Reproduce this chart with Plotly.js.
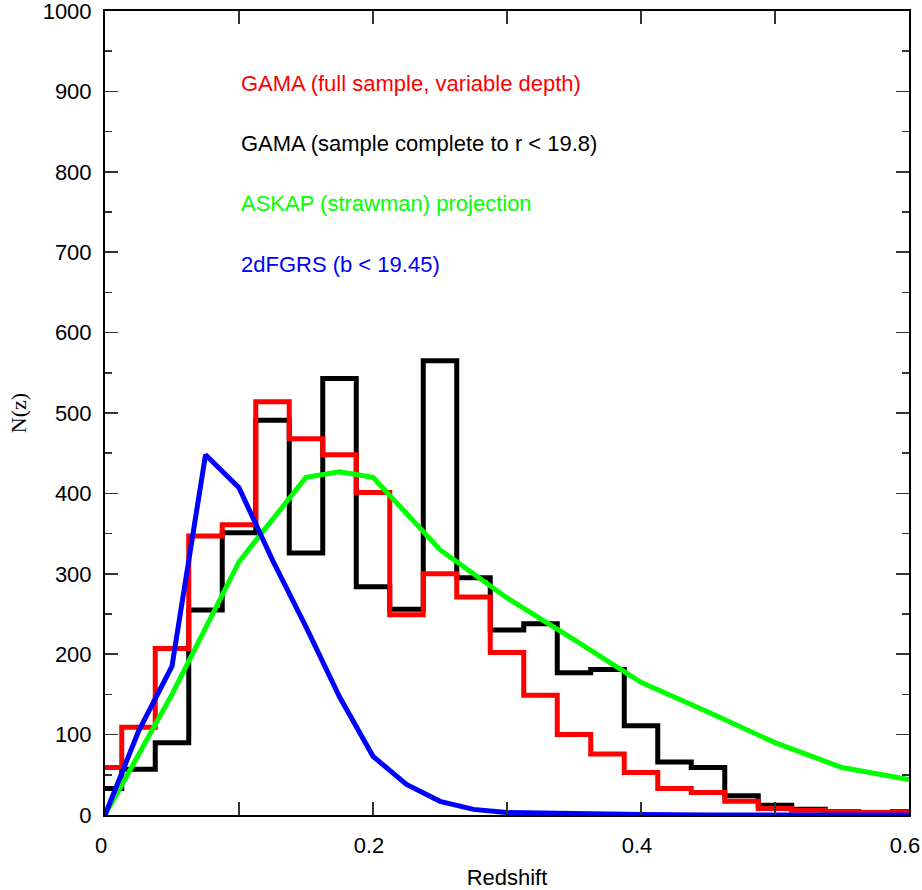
<!DOCTYPE html>
<html>
<head>
<meta charset="utf-8">
<script src="https://cdn.plot.ly/plotly-3.0.1.min.js"></script>
<style>html,body{margin:0;padding:0;background:#fff;}#chart{width:922px;height:890px;}</style>
</head>
<body>
<div id="chart"></div>
<script>
// Histogram bin centres (bin width 0.025)
const binCentres = [0,0.025,0.05,0.075,0.1,0.125,0.15,0.175,0.2,0.225,0.25,0.275,0.3,0.325,0.35,0.375,0.4,0.425,0.45,0.475,0.5,0.525,0.55,0.575,0.6];
// GAMA (sample complete to r < 19.8)
const gamaComplete = [33,57,90,255,351,491,326,543,284,256,565,295,230,238,177,181,111,66,59,24,12,7,4,3,4];
// GAMA (full sample, variable depth)
const gamaFull = [59,109,207,347,361,514,468,448,401,249,300,271,202,149,100,76,53,33,28,17,8,6,4,3,3];
// ASKAP (strawman) projection
const askapZ = [0,0.05,0.1,0.15,0.175,0.2,0.25,0.3,0.35,0.4,0.45,0.5,0.55,0.6];
const askapN = [0,150,315,420,427,420,330,270,218,165,128,90,59,44];
// 2dFGRS (b < 19.45)
const dfZ = [0,0.025,0.05,0.075,0.1,0.125,0.15,0.175,0.2,0.225,0.25,0.275,0.3,0.325,0.35,0.4,0.45,0.5,0.6];
const dfN = [0,104,185,448,407,317,234,147,73,38,17,7,3,2,1,0.5,0,0,0];

const labels = [
  {text:'GAMA (full sample, variable depth)', y:910, color:'#ff0000'},
  {text:'GAMA (sample complete to r < 19.8)', y:835, color:'#000000'},
  {text:'ASKAP (strawman) projection', y:760, color:'#00ff00'},
  {text:'2dFGRS (b < 19.45)', y:685, color:'#0000ff'}
];

const traces = [
  {x:binCentres, y:gamaComplete, type:'scatter', mode:'lines', line:{color:'#000000', width:5, shape:'hvh'}, name:'GAMA complete'},
  {x:binCentres, y:gamaFull, type:'scatter', mode:'lines', line:{color:'#ff0000', width:5, shape:'hvh'}, name:'GAMA full'},
  {x:askapZ, y:askapN, type:'scatter', mode:'lines', line:{color:'#00ff00', width:5}, name:'ASKAP'},
  {x:dfZ, y:dfN, type:'scatter', mode:'lines', line:{color:'#0000ff', width:5}, name:'2dFGRS'}
];

const layout = {
  width:922, height:890,
  margin:{l:105, r:13, t:11, b:75},
  paper_bgcolor:'#ffffff', plot_bgcolor:'#ffffff',
  showlegend:false,
  font:{family:'"Liberation Sans", Arial, sans-serif', size:22, color:'#000'},
  xaxis:{
    range:[0,0.6], tickvals:[0,0.2,0.4,0.6], ticktext:['0','0.2','0.4','0.6'],
    ticks:'inside', ticklen:13, tickwidth:1.5, tickcolor:'#333',
    minor:{tickvals:[0.1,0.3,0.5], ticks:'inside', ticklen:13, tickwidth:1.5, tickcolor:'#333'},
    showline:true, linecolor:'#000', linewidth:2, mirror:'ticks',
    showgrid:false, zeroline:false, ticklabelstandoff:10, ticklabeloverflow:'allow',
    ticklabelshift:-4,
    tickfont:{size:22},
    title:{text:'Redshift', font:{size:22}, standoff:12}
  },
  yaxis:{
    range:[0,1000], tickvals:[0,100,200,300,400,500,600,700,800,900,1000],
    ticks:'inside', ticklen:13, tickwidth:1.5, tickcolor:'#333',
    minor:{dtick:50, ticks:'inside', ticklen:7, tickwidth:1.5, tickcolor:'#333'},
    showline:true, linecolor:'#000', linewidth:2, mirror:'ticks',
    showgrid:false, zeroline:false, ticklabelstandoff:7, ticklabeloverflow:'allow',
    tickfont:{size:22},
    title:{text:'N(z)', font:{family:'"Liberation Serif", "Times New Roman", serif', size:22}, standoff:10}
  },
  annotations: labels.map(l => ({
    x:0.1, y:l.y, xref:'x', yref:'y', xanchor:'left', yanchor:'middle',
    text:l.text, showarrow:false, font:{size:22, color:l.color}
  }))
};

Plotly.newPlot('chart', traces, layout, {displayModeBar:false, staticPlot:true});
</script>
</body>
</html>
